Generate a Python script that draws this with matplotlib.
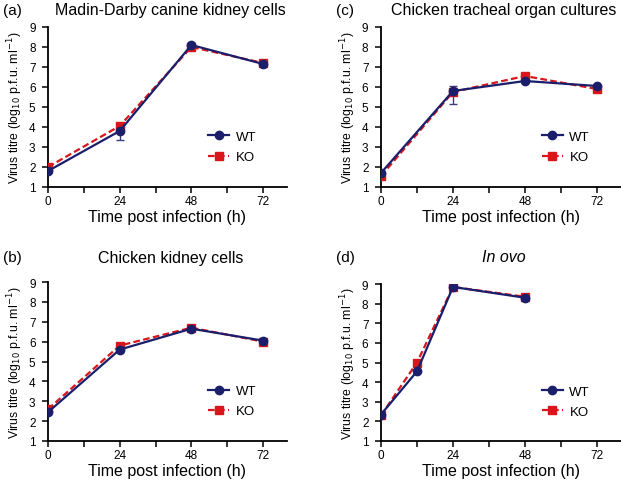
import matplotlib
matplotlib.use('Agg')
import matplotlib.pyplot as plt
import numpy as np

plt.rcParams['font.family'] = ['Liberation Sans', 'DejaVu Sans']

NAVY = '#1b1f6b'
RED = '#d8161b'

# panel data
titles = ['Madin-Darby canine kidney cells', 'Chicken tracheal organ cultures',
          'Chicken kidney cells', 'In ovo']
letters = ['(a)', '(c)', '(b)', '(d)']

t_a = [0, 24, 48, 72]
wt_a = [1.8, 3.8, 8.1, 7.15]
ko_a = [2.0, 4.05, 8.0, 7.2]
wt_a_err_lo = [0, 0.45, 0, 0]
wt_a_err_hi = [0, 0.0, 0, 0]

t_c = [0, 24, 48, 72]
wt_c = [1.7, 5.8, 6.3, 6.05]
ko_c = [1.55, 5.75, 6.55, 5.9]
wt_c_err_lo = [0, 0.65, 0, 0]
wt_c_err_hi = [0, 0.25, 0, 0]

t_b = [0, 24, 48, 72]
wt_b = [2.45, 5.6, 6.65, 6.05]
ko_b = [2.6, 5.8, 6.7, 6.0]

t_d = [0, 12, 24, 48]
wt_d = [2.35, 4.55, 8.85, 8.3]
ko_d = [2.3, 5.0, 8.85, 8.35]

panels = [
    (t_a, wt_a, ko_a, (wt_a_err_lo, wt_a_err_hi)),
    (t_c, wt_c, ko_c, (wt_c_err_lo, wt_c_err_hi)),
    (t_b, wt_b, ko_b, None),
    (t_d, wt_d, ko_d, None),
]

W, H = 621, 481
fig = plt.figure(figsize=(6.21, 4.81), dpi=100)

# axes boxes in pixels: left, top(y=9), right, bottom(y=1), title y
boxes = [(48, 28, 287, 188, 11), (381, 28, 621, 188, 11),
         (48, 283, 287, 442, 258), (381, 285, 621, 442, 258)]

for i, (box, (t, wt, ko, err)) in enumerate(zip(boxes, panels)):
    l, tp, r, b, tty = box
    ax = fig.add_axes([l / W, 1 - b / H, (r - l) / W, (b - tp) / H])
    ax.plot(t, ko, color=RED, ls='--', lw=1.6, marker='s', ms=6, dashes=(3, 1.5),
            label='KO', zorder=3)
    ax.plot(t, wt, color=NAVY, ls='-', lw=1.6, marker='o', ms=6, label='WT', zorder=4)
    if err is not None:
        ax.errorbar(t, wt, yerr=[err[0], err[1]], fmt='none', ecolor='#3a3f80',
                    elinewidth=1, capsize=3, zorder=2)
    ax.set_xlim(0, 80)
    ax.set_ylim(1, 9)
    ax.set_xticks([0, 24, 48, 72])
    ax.set_xticks([12, 36, 60], minor=True)
    ax.set_yticks(np.arange(1, 10))
    for s in ['top', 'right']:
        ax.spines[s].set_visible(False)
    for s in ['left', 'bottom']:
        ax.spines[s].set_linewidth(1.3)
    ax.tick_params(which='both', direction='out', length=4, width=1.1, labelsize=8.5)
    ax.tick_params(axis='y', pad=5)
    ax.tick_params(axis='x', pad=2)
    ax.set_xlabel('Time post infection (h)', fontsize=11.5, labelpad=1)
    ax.set_ylabel('Virus titre (log$_{10}$ p.f.u. ml$^{-1}$)', fontsize=8.8, labelpad=3)
    h, lab = ax.get_legend_handles_labels()
    ax.legend(h[::-1], lab[::-1], loc='center left', bbox_to_anchor=(0.62, 0.25),
              frameon=False, fontsize=9.5, handlelength=1.6, handletextpad=0.5,
              labelspacing=0.6)
    cx = (l + r) / 2 / W
    ty = 1 - tty / H
    style = 'italic' if titles[i] == 'In ovo' else 'normal'
    fig.text(cx + 0.005, ty, titles[i], fontsize=11.5, ha='center', va='center', style=style)
    fig.text((l - 45) / W, ty, letters[i], fontsize=11, ha='left', va='center')

fig.savefig('out.png', dpi=100)
